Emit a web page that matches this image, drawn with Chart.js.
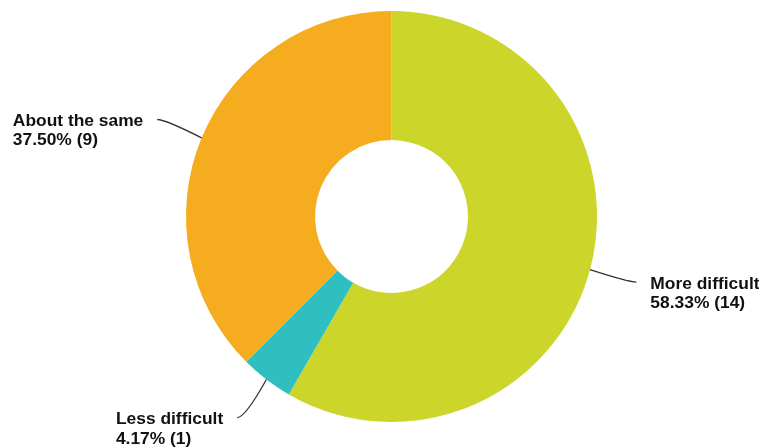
<!DOCTYPE html>
<html lang="en">
<head>
  <meta charset="UTF-8">
  <title>Difficulty</title>
  <script src="https://cdn.jsdelivr.net/npm/chart.js"></script>
  <style>
    body { margin: 0; background: #fff; }
    #wrap { width: 759px; height: 447px; position: relative; }
  </style>
</head>
<body>
  <div id="wrap"><canvas id="difficultyChart"></canvas></div>

  <script>
    const categories = ['More difficult', 'Less difficult', 'About the same'];
    const counts = [14, 1, 9];
    const sliceColors = ['#CCD62A', '#2FBFC1', '#F5AD1F'];

    const total = counts.reduce((a, b) => a + b, 0);

    // leader lines + two-line labels, placed from the arc elements
    const sliceLabels = {
      id: 'sliceLabels',
      afterDatasetsDraw(chart) {
        const ctx = chart.ctx;
        const meta = chart.getDatasetMeta(0);
        ctx.save();
        ctx.font = 'bold 17.4px "Liberation Sans", Arial, sans-serif';
        ctx.fillStyle = '#111';
        ctx.strokeStyle = '#333';
        ctx.lineWidth = 1.3;
        meta.data.forEach((arc, i) => {
          const p = arc.getProps(['x', 'y', 'startAngle', 'endAngle', 'outerRadius'], true);
          const mid = (p.startAngle + p.endAngle) / 2;
          const dx = Math.cos(mid), dy = Math.sin(mid);
          const side = dx >= 0 ? 1 : -1;
          const sx = p.x + dx * p.outerRadius, sy = p.y + dy * p.outerRadius;
          const ex = p.x + dx * (p.outerRadius + 48), ey = p.y + dy * (p.outerRadius + 48);
          ctx.beginPath();
          ctx.moveTo(sx, sy);
          ctx.quadraticCurveTo(ex - side * 8, ey, ex, ey);
          ctx.stroke();

          const line1 = categories[i];
          const line2 = (counts[i] / total * 100).toFixed(2) + '% (' + counts[i] + ')';
          const w = Math.max(ctx.measureText(line1).width, ctx.measureText(line2).width);
          const tx = side > 0 ? ex + 14 : ex - 14 - w;
          ctx.textAlign = 'left';
          ctx.textBaseline = 'alphabetic';
          ctx.fillText(line1, tx, ey + 6.5);
          ctx.fillText(line2, tx, ey + 26);
        });
        ctx.restore();
      }
    };

    new Chart(document.getElementById('difficultyChart'), {
      type: 'doughnut',
      data: {
        labels: categories,
        datasets: [{
          data: counts,
          backgroundColor: sliceColors,
          borderWidth: 0
        }]
      },
      options: {
        responsive: true,
        maintainAspectRatio: false,
        animation: false,
        cutout: '37.2%',
        layout: { padding: { top: 11, bottom: 25, left: 100, right: 76 } },
        plugins: {
          legend: { display: false },
          tooltip: { enabled: false }
        }
      },
      plugins: [sliceLabels]
    });
  </script>
</body>
</html>
